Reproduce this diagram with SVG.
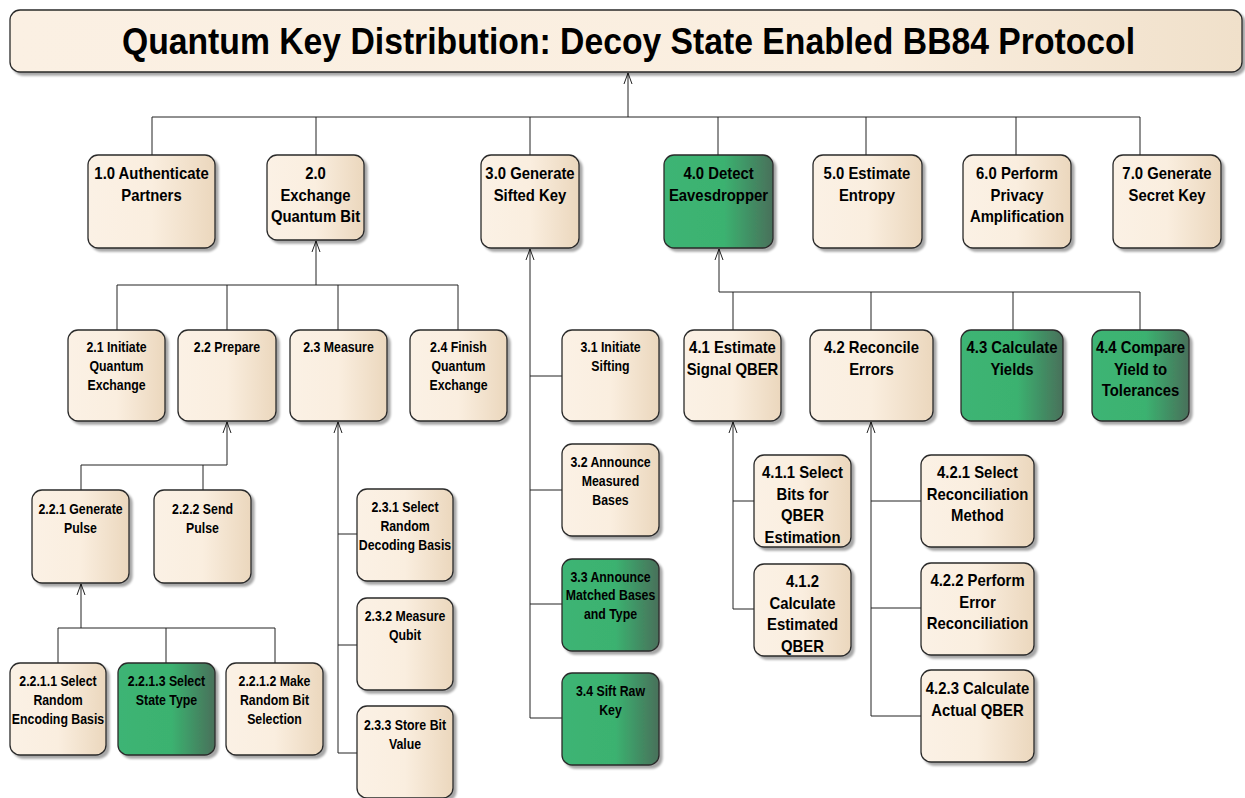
<svg xmlns="http://www.w3.org/2000/svg" width="1245" height="798" viewBox="0 0 1245 798">
  <defs>
    <linearGradient id="cream" x1="0" y1="0" x2="1" y2="0">
      <stop offset="0" stop-color="#FBF1E5"/>
      <stop offset="0.5" stop-color="#FAEEDF"/>
      <stop offset="1" stop-color="#EBD7BD"/>
    </linearGradient>
    <linearGradient id="green" x1="0" y1="0" x2="1" y2="0">
      <stop offset="0" stop-color="#3DB474"/>
      <stop offset="0.55" stop-color="#3BB270"/>
      <stop offset="1" stop-color="#48705A"/>
    </linearGradient>
    <linearGradient id="titleFill" x1="0" y1="0" x2="1" y2="0">
      <stop offset="0" stop-color="#FBF0E3"/>
      <stop offset="0.7" stop-color="#FAEEDF"/>
      <stop offset="1" stop-color="#F0E0CA"/>
    </linearGradient>
    <filter id="shadow" x="-10%" y="-10%" width="130%" height="130%">
      <feDropShadow dx="3" dy="3" stdDeviation="1.2" flood-color="#000" flood-opacity="0.35"/>
    </filter>
    <marker id="openArrow" viewBox="0 -6 14 12" markerWidth="14" markerHeight="12" refX="11" refY="0" orient="auto" markerUnits="userSpaceOnUse">
      <path d="M0,-4 L11,0 L0,4" fill="none" stroke="#222" stroke-width="1"/>
    </marker>
    <style>
      .box { fill: url(#cream); stroke: #2a2a2a; stroke-width: 1.3; filter: url(#shadow); }
      .box.g { fill: url(#green); }
      .t16 { font-family: "Liberation Sans", Arial, sans-serif; font-weight: bold; font-size: 16px; text-anchor: middle; fill: #000; }
      .t14 { font-family: "Liberation Sans", Arial, sans-serif; font-weight: bold; font-size: 14px; text-anchor: middle; fill: #000; }
      .title { font-family: "Liberation Sans", Arial, sans-serif; font-weight: bold; font-size: 36px; text-anchor: middle; fill: #000; }
      .wire { fill: none; stroke: #222; stroke-width: 1; }
      .up { marker-end: url(#openArrow); }
    </style>
  </defs>

  <rect width="1245" height="798" fill="#ffffff"/>

  <!-- Connectors -->
  <g id="connectors">
    <!-- root bus -->
    <path class="wire up" d="M628,117 V73"/>
    <path class="wire" d="M152,155 V117 H1140 V155 M316,117 V155 M530,117 V155 M718,117 V155 M866,117 V155 M1016,117 V155"/>
    <!-- 2.0 children -->
    <path class="wire up" d="M316,285 V241"/>
    <path class="wire" d="M117,330 V285 H458 V330 M227,285 V330 M338,285 V330"/>
    <!-- 2.2 children -->
    <path class="wire up" d="M227,465 V422"/>
    <path class="wire" d="M81,490 V465 H227 M203,465 V490"/>
    <!-- 2.2.1 children -->
    <path class="wire up" d="M81,628 V584"/>
    <path class="wire" d="M58,663 V628 H275 V663 M166,628 V663"/>
    <!-- 2.3 children -->
    <path class="wire up" d="M338,753 V422"/>
    <path class="wire" d="M338,534 H357 M338,645 H357 M338,753 H357"/>
    <!-- 3.0 children -->
    <path class="wire up" d="M530,718 V249"/>
    <path class="wire" d="M530,376 H562 M530,490 H562 M530,604 H562 M530,718 H562"/>
    <!-- 4.0 children -->
    <path class="wire up" d="M719,292 V249"/>
    <path class="wire" d="M719,292 H1140 V330 M733,292 V330 M871,292 V330 M1013,292 V330"/>
    <!-- 4.1 children -->
    <path class="wire up" d="M733,609 V422"/>
    <path class="wire" d="M733,501 H754 M733,609 H754"/>
    <!-- 4.2 children -->
    <path class="wire up" d="M871,716 V422"/>
    <path class="wire" d="M871,501 H921 M871,608 H921 M871,716 H921"/>
  </g>

  <!-- Title -->
  <g id="title">
    <rect x="10" y="10" width="1232" height="62" rx="10" fill="url(#titleFill)" stroke="#2a2a2a" stroke-width="1.3" filter="url(#shadow)"/>
    <text class="title" x="628.5" y="54" textLength="1013" lengthAdjust="spacingAndGlyphs">Quantum Key Distribution: Decoy State Enabled BB84 Protocol</text>
  </g>

  <!-- Level 1 -->
  <g id="n1-0">
    <rect class="box" x="88" y="155" width="127" height="93" rx="10"/>
    <text class="t16" transform="translate(151.5 0) scale(0.93 1)"><tspan x="0" y="179">1.0 Authenticate</tspan><tspan x="0" y="201">Partners</tspan></text>
  </g>
  <g id="n2-0">
    <rect class="box" x="267" y="155" width="97" height="85" rx="10"/>
    <text class="t16" transform="translate(315.5 0) scale(0.93 1)"><tspan x="0" y="179">2.0</tspan><tspan x="0" y="201">Exchange</tspan><tspan x="0" y="222">Quantum Bit</tspan></text>
  </g>
  <g id="n3-0">
    <rect class="box" x="481" y="155" width="98" height="93" rx="10"/>
    <text class="t16" transform="translate(530 0) scale(0.93 1)"><tspan x="0" y="179">3.0 Generate</tspan><tspan x="0" y="201">Sifted Key</tspan></text>
  </g>
  <g id="n4-0">
    <rect class="box g" x="664" y="155" width="109" height="93" rx="10"/>
    <text class="t16" transform="translate(718.5 0) scale(0.93 1)"><tspan x="0" y="179">4.0 Detect</tspan><tspan x="0" y="201">Eavesdropper</tspan></text>
  </g>
  <g id="n5-0">
    <rect class="box" x="813" y="155" width="109" height="93" rx="10"/>
    <text class="t16" transform="translate(867 0) scale(0.93 1)"><tspan x="0" y="179">5.0 Estimate</tspan><tspan x="0" y="201">Entropy</tspan></text>
  </g>
  <g id="n6-0">
    <rect class="box" x="963" y="155" width="108" height="93" rx="10"/>
    <text class="t16" transform="translate(1017 0) scale(0.93 1)"><tspan x="0" y="179">6.0 Perform</tspan><tspan x="0" y="201">Privacy</tspan><tspan x="0" y="222">Amplification</tspan></text>
  </g>
  <g id="n7-0">
    <rect class="box" x="1113" y="155" width="108" height="93" rx="10"/>
    <text class="t16" transform="translate(1167 0) scale(0.93 1)"><tspan x="0" y="179">7.0 Generate</tspan><tspan x="0" y="201">Secret Key</tspan></text>
  </g>

  <!-- 2.x -->
  <g id="n2-1">
    <rect class="box" x="68" y="330" width="97" height="91" rx="10"/>
    <text class="t14" transform="translate(116.5 0) scale(0.88 1)"><tspan x="0" y="352">2.1 Initiate</tspan><tspan x="0" y="371">Quantum</tspan><tspan x="0" y="390">Exchange</tspan></text>
  </g>
  <g id="n2-2">
    <rect class="box" x="178" y="330" width="98" height="91" rx="10"/>
    <text class="t14" transform="translate(227 0) scale(0.88 1)"><tspan x="0" y="352">2.2 Prepare</tspan></text>
  </g>
  <g id="n2-3">
    <rect class="box" x="290" y="330" width="97" height="91" rx="10"/>
    <text class="t14" transform="translate(338.5 0) scale(0.88 1)"><tspan x="0" y="352">2.3 Measure</tspan></text>
  </g>
  <g id="n2-4">
    <rect class="box" x="410" y="330" width="97" height="91" rx="10"/>
    <text class="t14" transform="translate(458.5 0) scale(0.88 1)"><tspan x="0" y="352">2.4 Finish</tspan><tspan x="0" y="371">Quantum</tspan><tspan x="0" y="390">Exchange</tspan></text>
  </g>

  <!-- 2.2.x -->
  <g id="n2-2-1">
    <rect class="box" x="32" y="490" width="97" height="93" rx="10"/>
    <text class="t14" transform="translate(80.5 0) scale(0.88 1)"><tspan x="0" y="514">2.2.1 Generate</tspan><tspan x="0" y="533">Pulse</tspan></text>
  </g>
  <g id="n2-2-2">
    <rect class="box" x="154" y="490" width="97" height="93" rx="10"/>
    <text class="t14" transform="translate(202.5 0) scale(0.88 1)"><tspan x="0" y="514">2.2.2 Send</tspan><tspan x="0" y="533">Pulse</tspan></text>
  </g>

  <!-- 2.2.1.x -->
  <g id="n2-2-1-1">
    <rect class="box" x="10" y="663" width="96" height="92" rx="10"/>
    <text class="t14" transform="translate(58 0) scale(0.88 1)"><tspan x="0" y="686">2.2.1.1 Select</tspan><tspan x="0" y="705">Random</tspan><tspan x="0" y="724">Encoding Basis</tspan></text>
  </g>
  <g id="n2-2-1-3">
    <rect class="box g" x="118" y="663" width="97" height="92" rx="10"/>
    <text class="t14" transform="translate(166.5 0) scale(0.88 1)"><tspan x="0" y="686">2.2.1.3 Select</tspan><tspan x="0" y="705">State Type</tspan></text>
  </g>
  <g id="n2-2-1-2">
    <rect class="box" x="226" y="663" width="97" height="92" rx="10"/>
    <text class="t14" transform="translate(274.5 0) scale(0.88 1)"><tspan x="0" y="686">2.2.1.2 Make</tspan><tspan x="0" y="705">Random Bit</tspan><tspan x="0" y="724">Selection</tspan></text>
  </g>

  <!-- 2.3.x -->
  <g id="n2-3-1">
    <rect class="box" x="357" y="489" width="96" height="92" rx="10"/>
    <text class="t14" transform="translate(405 0) scale(0.88 1)"><tspan x="0" y="512">2.3.1 Select</tspan><tspan x="0" y="531">Random</tspan><tspan x="0" y="550">Decoding Basis</tspan></text>
  </g>
  <g id="n2-3-2">
    <rect class="box" x="357" y="598" width="96" height="92" rx="10"/>
    <text class="t14" transform="translate(405 0) scale(0.88 1)"><tspan x="0" y="621">2.3.2 Measure</tspan><tspan x="0" y="640">Qubit</tspan></text>
  </g>
  <g id="n2-3-3">
    <rect class="box" x="357" y="706" width="96" height="92" rx="10"/>
    <text class="t14" transform="translate(405 0) scale(0.88 1)"><tspan x="0" y="730">2.3.3 Store Bit</tspan><tspan x="0" y="749">Value</tspan></text>
  </g>

  <!-- 3.x -->
  <g id="n3-1">
    <rect class="box" x="562" y="330" width="97" height="91" rx="10"/>
    <text class="t14" transform="translate(610.5 0) scale(0.88 1)"><tspan x="0" y="352">3.1 Initiate</tspan><tspan x="0" y="371">Sifting</tspan></text>
  </g>
  <g id="n3-2">
    <rect class="box" x="562" y="444" width="97" height="92" rx="10"/>
    <text class="t14" transform="translate(610.5 0) scale(0.88 1)"><tspan x="0" y="467">3.2 Announce</tspan><tspan x="0" y="486">Measured</tspan><tspan x="0" y="505">Bases</tspan></text>
  </g>
  <g id="n3-3">
    <rect class="box g" x="562" y="559" width="97" height="92" rx="10"/>
    <text class="t14" transform="translate(610.5 0) scale(0.88 1)"><tspan x="0" y="582">3.3 Announce</tspan><tspan x="0" y="600">Matched Bases</tspan><tspan x="0" y="619">and Type</tspan></text>
  </g>
  <g id="n3-4">
    <rect class="box g" x="562" y="673" width="97" height="92" rx="10"/>
    <text class="t14" transform="translate(610.5 0) scale(0.88 1)"><tspan x="0" y="696">3.4 Sift Raw</tspan><tspan x="0" y="715">Key</tspan></text>
  </g>

  <!-- 4.x -->
  <g id="n4-1">
    <rect class="box" x="684" y="330" width="97" height="91" rx="10"/>
    <text class="t16" transform="translate(732.5 0) scale(0.93 1)"><tspan x="0" y="353">4.1 Estimate</tspan><tspan x="0" y="375">Signal QBER</tspan></text>
  </g>
  <g id="n4-2">
    <rect class="box" x="810" y="330" width="123" height="91" rx="10"/>
    <text class="t16" transform="translate(871.5 0) scale(0.93 1)"><tspan x="0" y="353">4.2 Reconcile</tspan><tspan x="0" y="375">Errors</tspan></text>
  </g>
  <g id="n4-3">
    <rect class="box g" x="961" y="330" width="102" height="91" rx="10"/>
    <text class="t16" transform="translate(1012 0) scale(0.93 1)"><tspan x="0" y="353">4.3 Calculate</tspan><tspan x="0" y="375">Yields</tspan></text>
  </g>
  <g id="n4-4">
    <rect class="box g" x="1092" y="330" width="97" height="91" rx="10"/>
    <text class="t16" transform="translate(1140.5 0) scale(0.93 1)"><tspan x="0" y="353">4.4 Compare</tspan><tspan x="0" y="375">Yield to</tspan><tspan x="0" y="396">Tolerances</tspan></text>
  </g>

  <!-- 4.1.x -->
  <g id="n4-1-1">
    <rect class="box" x="754" y="455" width="97" height="92" rx="10"/>
    <text class="t16" transform="translate(802.5 0) scale(0.93 1)"><tspan x="0" y="478">4.1.1 Select</tspan><tspan x="0" y="500">Bits for</tspan><tspan x="0" y="521">QBER</tspan><tspan x="0" y="543">Estimation</tspan></text>
  </g>
  <g id="n4-1-2">
    <rect class="box" x="754" y="564" width="97" height="92" rx="10"/>
    <text class="t16" transform="translate(802.5 0) scale(0.93 1)"><tspan x="0" y="587">4.1.2</tspan><tspan x="0" y="609">Calculate</tspan><tspan x="0" y="630">Estimated</tspan><tspan x="0" y="652">QBER</tspan></text>
  </g>

  <!-- 4.2.x -->
  <g id="n4-2-1">
    <rect class="box" x="921" y="455" width="113" height="92" rx="10"/>
    <text class="t16" transform="translate(977.5 0) scale(0.93 1)"><tspan x="0" y="478">4.2.1 Select</tspan><tspan x="0" y="500">Reconciliation</tspan><tspan x="0" y="521">Method</tspan></text>
  </g>
  <g id="n4-2-2">
    <rect class="box" x="921" y="563" width="113" height="92" rx="10"/>
    <text class="t16" transform="translate(977.5 0) scale(0.93 1)"><tspan x="0" y="586">4.2.2 Perform</tspan><tspan x="0" y="608">Error</tspan><tspan x="0" y="629">Reconciliation</tspan></text>
  </g>
  <g id="n4-2-3">
    <rect class="box" x="921" y="670" width="113" height="92" rx="10"/>
    <text class="t16" transform="translate(977.5 0) scale(0.93 1)"><tspan x="0" y="694">4.2.3 Calculate</tspan><tspan x="0" y="716">Actual QBER</tspan></text>
  </g>
</svg>
